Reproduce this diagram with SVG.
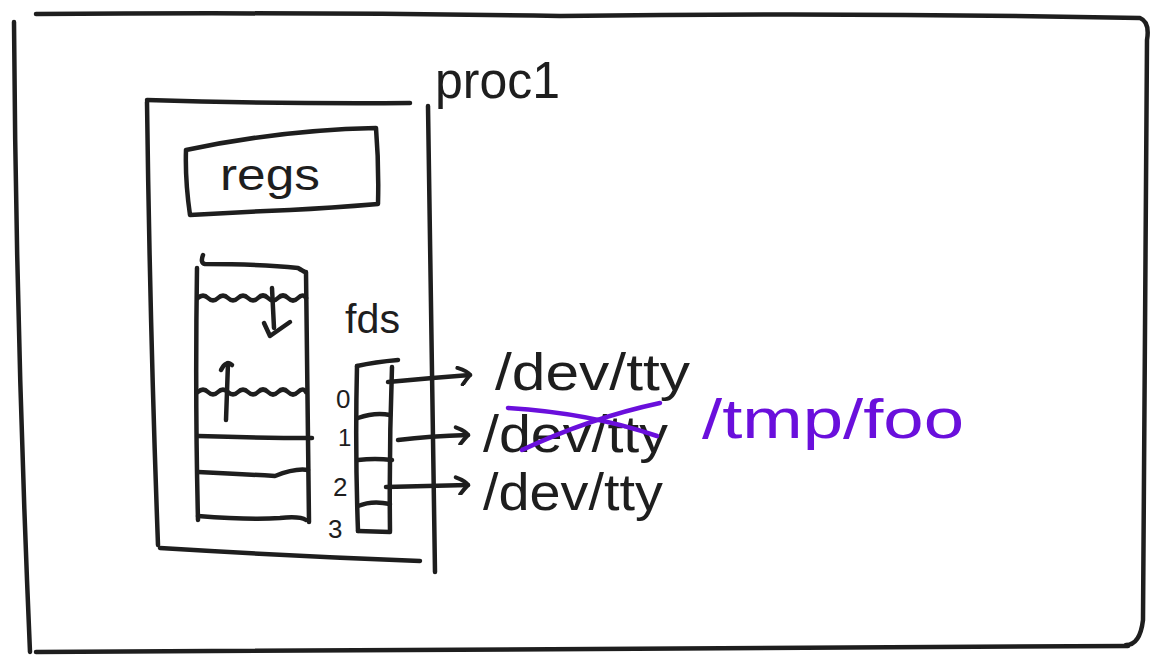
<svg xmlns="http://www.w3.org/2000/svg" width="1158" height="655" viewBox="0 0 1158 655">
<style>
.s{fill:none;stroke:#1e1e1e;stroke-width:4.5;stroke-linecap:round;stroke-linejoin:round}
.p{fill:none;stroke:#6a0fdc;stroke-width:4.5;stroke-linecap:round}
.t{font-family:"Liberation Sans",Arial,sans-serif;fill:#1e1e1e}
.tp{font-family:"Liberation Sans",Arial,sans-serif;fill:#6a0fdc}
</style>
<defs>
<marker id="ah" viewBox="0 0 20 20" refX="16" refY="10" markerWidth="20" markerHeight="20" markerUnits="userSpaceOnUse" orient="auto">
<path d="M4 2 Q14 6 16 10 Q12 14 8 19" fill="none" stroke="#1e1e1e" stroke-width="4" stroke-linecap="round"/>
</marker>
</defs>
<g id="frame">
<path class="s" d="M36 14 Q300 12 560 16 Q850 12 1140 18 Q1150 22 1147 40 Q1146 330 1143 620 Q1140 645 1126 645"/>
<path class="s" d="M14 22 Q16 330 30 652"/>
<path class="s" d="M36 652 Q580 648 1128 646"/>
<text class="t" x="435" y="98" font-size="52" textLength="125" lengthAdjust="spacingAndGlyphs">proc1</text>
</g>
<g id="proc">
<path class="s" d="M147 100 Q280 104 410 103"/>
<path class="s" d="M147 102 Q150 330 158 545"/>
<path class="s" d="M160 548 Q290 556 420 561"/>
<path class="s" d="M428 106 Q432 340 435 572"/>
</g>
<g id="regs">
<path class="s" d="M186 150 Q280 130 376 128 Q379 165 378 204 Q330 208 290 210 Q240 212 190 215 Q185 180 186 150"/>
<text class="t" x="220" y="190" font-size="44" textLength="100" lengthAdjust="spacingAndGlyphs">regs</text>
</g>
<g id="memory">
<path class="s" d="M203 255 Q200 263 205 264 Q260 264 298 268 Q303 271 305 272"/>
<path class="s" d="M197 268 Q195 400 198 520"/>
<path class="s" d="M306 272 Q307 400 309 522"/>
<path class="s" d="M198 298 q5 -5 10 0 q5 5 10 0 q5 -5 10 0 q5 5 10 0 q5 -5 10 0 q5 5 10 0 q5 -5 10 0 q5 5 10 0 q5 -5 10 0 q5 5 10 0 q5 -5 8 0"/>
<path class="s" d="M272 288 L274 328"/>
<path class="s" d="M264 323 L270 336 L290 322"/>
<path class="s" d="M198 392 q5 -5 10 0 q5 5 10 0 q5 -5 10 0 q5 5 10 0 q5 -5 10 0 q5 5 10 0 q5 -5 10 0 q5 5 10 0 q5 -5 10 0 q5 5 10 0 q5 -5 8 0"/>
<path class="s" d="M226 420 L228 363"/>
<path class="s" d="M221 370 Q226 360 232 365"/>
<path class="s" d="M198 436 Q260 438 312 438"/>
<path class="s" d="M198 472 Q240 474 275 476 Q295 468 308 470"/>
<path class="s" d="M198 516 Q250 520 280 518 Q300 516 306 520"/>
</g>
<g id="fds">
<text class="t" x="345" y="333" font-size="40" textLength="55" lengthAdjust="spacingAndGlyphs">fds</text>
<path class="s" d="M357 366 Q375 362 398 360"/>
<path class="s" d="M357 366 Q355 450 358 531"/>
<path class="s" d="M392 367 Q389 450 390 531"/>
<path class="s" d="M358 531 L390 532"/>
<path class="s" d="M358 418 Q375 412 390 415"/>
<path class="s" d="M358 460 Q375 458 392 460"/>
<path class="s" d="M358 506 Q372 500 390 504"/>
<text class="t" x="336" y="408" font-size="26">0</text>
<text class="t" x="338" y="446" font-size="24">1</text>
<text class="t" x="333" y="496" font-size="26">2</text>
<text class="t" x="328" y="538" font-size="26">3</text>
</g>
<g id="connectors">
<path class="s" d="M388 382 Q430 378 470 375" marker-end="url(#ah)"/>
<path class="s" d="M398 440 Q430 436 468 435" marker-end="url(#ah)"/>
<path class="s" d="M386 487 Q430 486 468 485" marker-end="url(#ah)"/>
</g>
<g id="targets">
<text class="t" x="495" y="390" font-size="52" textLength="195" lengthAdjust="spacingAndGlyphs">/dev/tty</text>
<text class="t" x="483" y="452" font-size="52" textLength="185" lengthAdjust="spacingAndGlyphs">/dev/tty</text>
<text class="t" x="483" y="510" font-size="52" textLength="180" lengthAdjust="spacingAndGlyphs">/dev/tty</text>
<path class="p" d="M508 408 Q590 413 657 436"/>
<path class="p" d="M522 450 Q590 418 660 403"/>
<text class="tp" x="702" y="438" font-size="56" textLength="262" lengthAdjust="spacingAndGlyphs">/tmp/foo</text>
</g>
</svg>
